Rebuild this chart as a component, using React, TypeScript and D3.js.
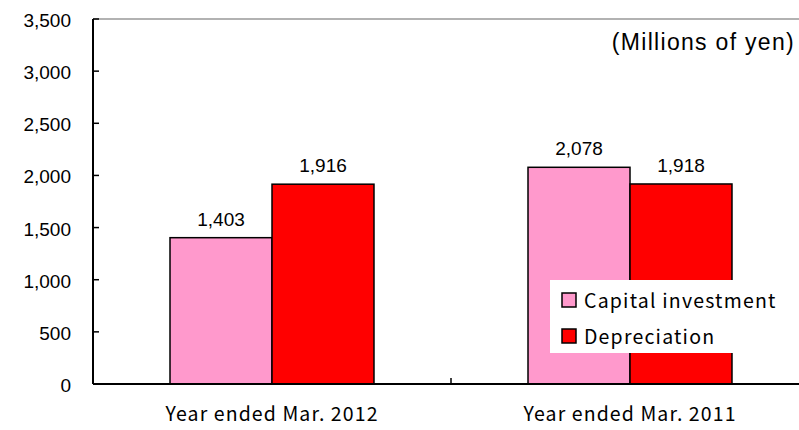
import React from "react";
import * as d3 from "d3";

const categories = ["Year ended Mar. 2012", "Year ended Mar. 2011"];
const seriesNames = ["Capital investment", "Depreciation"];
const capitalInvestment = [1403, 2078];
const depreciation = [1916, 1918];
const yTicks = [0, 500, 1000, 1500, 2000, 2500, 3000, 3500];
const colors = ["#FF99CC", "#FF0000"];

export default function App() {
  const W = 799, H = 430;
  const left = 93, right = 809, top = 19, bottom = 384;
  const x = d3.scaleBand<string>().domain(categories).range([left, right]).paddingInner(0).paddingOuter(0);
  const inner = d3.scaleBand<string>().domain(seriesNames).range([0, x.bandwidth()]).paddingInner(0).paddingOuter(0.755);
  const y = d3.scaleLinear().domain([0, 3500]).range([bottom, top]);
  const fmt = d3.format(",");
  const series = [capitalInvestment, depreciation];
  const font = "'Liberation Sans', Arial, sans-serif";
  const jfont = "'Noto Sans CJK JP', sans-serif";

  return (
    <svg width={W} height={H} style={{ position: "absolute", left: 0, top: 0, background: "#fff" }}>
      <line x1={left} x2={W} y1={top} y2={top} stroke="#999" strokeWidth={1.5} />
      {series.map((vals, si) =>
        categories.map((c, ci) => {
          const bx = (x(c) as number) + (inner(seriesNames[si]) as number);
          const bw = inner.bandwidth();
          return (
            <g key={`${si}-${ci}`}>
              <rect x={bx} y={y(vals[ci])} width={bw} height={bottom - y(vals[ci])} fill={colors[si]} stroke="#000" strokeWidth={1.5} />
              <text x={bx + bw / 2} y={y(vals[ci]) - 12} textAnchor="middle" fontFamily={font} fontSize={19} fill="#000">{fmt(vals[ci])}</text>
            </g>
          );
        })
      )}
      <line x1={left} x2={left} y1={top} y2={bottom} stroke="#000" strokeWidth={2} />
      <line x1={left} x2={W} y1={bottom} y2={bottom} stroke="#000" strokeWidth={2} />
      {yTicks.map((t) => (
        <g key={t}>
          <line x1={left} x2={left + 6} y1={y(t)} y2={y(t)} stroke="#000" strokeWidth={1.5} />
          <text x={71} y={y(t) + 8} textAnchor="end" fontFamily={font} fontSize={19} fill="#000">{fmt(t)}</text>
        </g>
      ))}
      {categories.slice(1).map((c) => (
        <line key={c} x1={x(c) as number} x2={x(c) as number} y1={bottom} y2={bottom - 6} stroke="#000" strokeWidth={1.5} />
      ))}
      {categories.map((c) => (
        <text key={c} x={(x(c) as number) + x.bandwidth() / 2} y={421} textAnchor="middle" fontFamily={jfont} fontSize={19.5} letterSpacing={1.1} fill="#000">{c}</text>
      ))}
      <text x={795} y={50} textAnchor="end" fontFamily={font} fontSize={23} letterSpacing={1.3} fill="#000">(Millions of yen)</text>
      <rect x={550} y={280} width={232} height={73} fill="#fff" />
      {seriesNames.map((s, i) => (
        <g key={s}>
          <rect x={562} y={293 + i * 36} width={14} height={14} fill={colors[i]} stroke="#000" strokeWidth={1.5} />
          <text x={584} y={308 + i * 36} fontFamily={jfont} fontSize={19.5} letterSpacing={1.2} fill="#000">{s}</text>
        </g>
      ))}
    </svg>
  );
}
